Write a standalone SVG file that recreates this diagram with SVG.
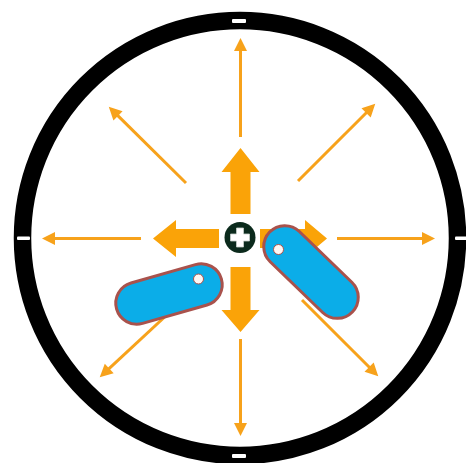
<svg xmlns="http://www.w3.org/2000/svg" width="466" height="463" viewBox="0 0 466 463">
<style>
.thin{stroke:#F7A21B;stroke-width:3;fill:none;marker-end:url(#ah)}
.thick{fill:#FAA308}
.cap{fill:#0BADE8;stroke:#A9524C;stroke-width:3}
.dot{fill:#FFF8F4;stroke:#A9524C;stroke-width:1}
.tick{fill:#ffffff}
</style>
<defs>
<marker id="ah" markerUnits="userSpaceOnUse" markerWidth="16" markerHeight="16" viewBox="-1 -8 16 16" refX="1" refY="0" orient="auto">
<path d="M0,-6.5 L13,0 L0,6.5 z" fill="#F7A21B"/>
</marker>
</defs>
<rect width="466" height="463" fill="#ffffff"/>
<g id="ring">
<circle cx="240" cy="238" r="217.5" fill="none" stroke="#000" stroke-width="17.5"/>
<rect class="tick" x="232" y="19" width="14" height="4" rx="1"/>
<rect class="tick" x="232" y="454" width="14" height="4" rx="1"/>
<rect class="tick" x="17" y="236.5" width="13" height="3.5" rx="1"/>
<rect class="tick" x="455" y="236.5" width="12" height="3.5" rx="1"/>
</g>
<g id="connectors">
<line class="thin" x1="240.5" y1="137" x2="240.5" y2="50"/>
<line class="thin" x1="240.5" y1="339" x2="240.5" y2="424"/>
<line class="thin" x1="141" y1="238.5" x2="54" y2="238.5"/>
<line class="thin" x1="337" y1="238.5" x2="423" y2="238.5"/>
<line class="thin" x1="186" y1="183" x2="117.3" y2="115.1"/>
<line class="thin" x1="298" y1="181" x2="366.8" y2="112.2"/>
<line class="thin" x1="170" y1="312" x2="108.5" y2="369.2"/>
<line class="thin" x1="302" y1="300" x2="369.8" y2="367.8"/>
<polygon class="thick" points="230.5,214 230.5,172 221.5,172 240.5,148 259.5,172 250.5,172 250.5,214"/>
<polygon class="thick" points="230.5,267 250.5,267 250.5,310 259.5,310 240.5,332 221.5,310 230.5,310"/>
<polygon class="thick" points="219,229 176,229 176,220 153,238.5 176,257 176,248 219,248"/>
<polygon class="thick" points="260,229 305,229 305,220 327,238.5 305,257 305,248 260,248"/>
</g>
<g id="center">
<circle cx="240" cy="237.5" r="15.5" fill="#0B2A1C"/>
<path d="M236.5,228 h7 v6 h6 v7 h-6 v6 h-7 v-6 h-6 v-7 h6 z" fill="#ffffff" stroke="#C8D0CC" stroke-width="0.8"/>
</g>
<g id="bacterium-left">
<rect class="cap" x="-54.5" y="-21" width="109" height="42" rx="21" transform="translate(169,294) rotate(-16)"/>
<circle class="dot" cx="198.5" cy="279" r="5"/>
</g>
<g id="bacterium-right">
<rect class="cap" x="-57.5" y="-21" width="115" height="42" rx="21" transform="translate(311,272) rotate(44)"/>
<circle class="dot" cx="278.5" cy="249.5" r="5"/>
</g>
</svg>
